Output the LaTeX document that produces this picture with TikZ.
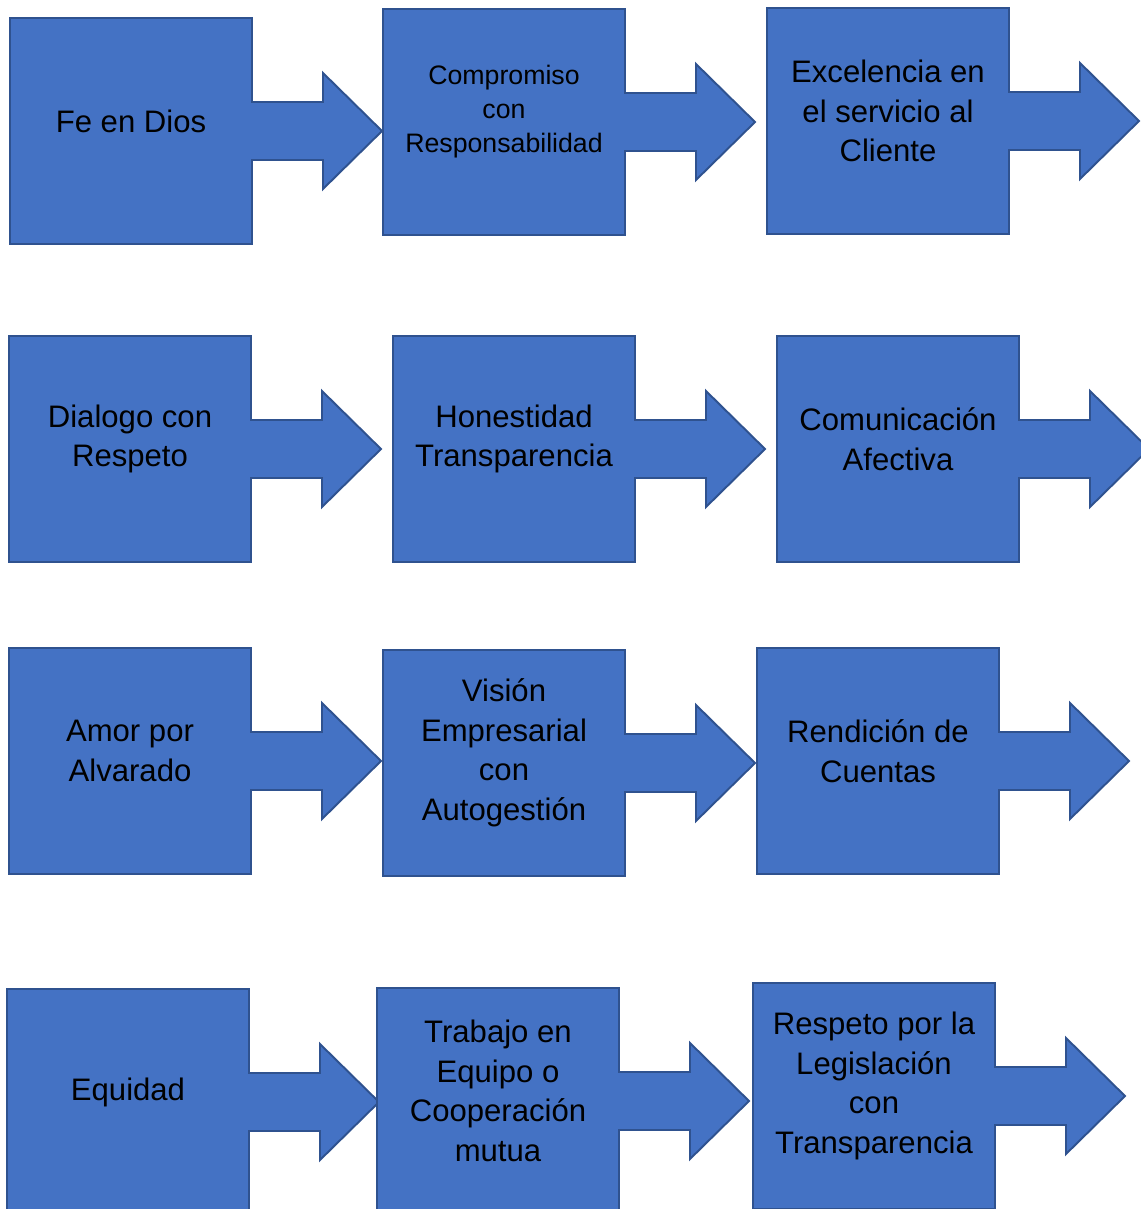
\documentclass[tikz,border=0pt]{standalone}
\usepackage{fontspec}
\setmainfont{Liberation Sans}
\usepackage{tikz}
\usetikzlibrary{calc, positioning}

\definecolor{boxblue}{HTML}{4472C4}
\definecolor{boxedge}{HTML}{2F528F}

\tikzset{
  callout/.style={fill=boxblue, draw=boxedge, line width=1.1pt, line join=miter},
  bigtext/.style={align=center, font=\fontsize{17.7}{22.5}\selectfont},
  smalltext/.style={align=center, font=\fontsize{15.2}{19.4}\selectfont}
}

% box with arrow: name, left x, top y, text style, text
\newcommand{\valuebox}[5]{%
  \draw[callout] (#2,#3) -- ++(242,0) -- ++(0,84) -- ++(71,0) -- ++(0,-29)
    -- ++(59,58) -- ++(-59,58) -- ++(0,-29) -- ++(-71,0) -- ++(0,84)
    -- ++(-242,0) -- cycle;
  \node[#4] (#1) at ($(#2,#3)+(121,103)$) {#5};
}

\begin{document}
\begin{tikzpicture}[x=0.02cm, y=-0.02cm]
    \useasboundingbox (0,0) rectangle (1141,1209);
    \clip (0,0) rectangle (1141,1209);
    \valuebox{faith}{10}{18}{bigtext}{Fe en Dios}
    \valuebox{commit}{383}{9}{smalltext}{Compromiso\\con\\Responsabilidad}
    \valuebox{excellence}{767}{8}{bigtext}{Excelencia en\\el servicio al\\Cliente}
    \valuebox{dialogue}{9}{336}{bigtext}{Dialogo con\\Respeto}
    \valuebox{honesty}{393}{336}{bigtext}{Honestidad\\Transparencia}
    \valuebox{communication}{777}{336}{bigtext}{Comunicación\\Afectiva}
    \valuebox{love}{9}{648}{bigtext}{Amor por\\Alvarado}
    \valuebox{vision}{383}{650}{bigtext}{Visión\\Empresarial\\con\\Autogestión}
    \valuebox{accountability}{757}{648}{bigtext}{Rendición de\\Cuentas}
    \valuebox{equity}{7}{989}{bigtext}{Equidad}
    \valuebox{teamwork}{377}{988}{bigtext}{Trabajo en\\Equipo o\\Cooperación\\mutua}
    \valuebox{legislation}{753}{983}{bigtext}{Respeto por la\\Legislación\\con\\Transparencia}
\end{tikzpicture}
\end{document}
